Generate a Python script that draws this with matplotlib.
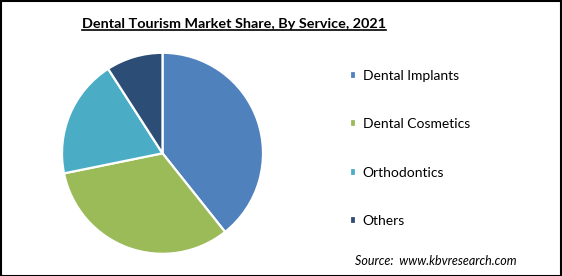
import matplotlib
matplotlib.use("Agg")
import matplotlib.pyplot as plt
from matplotlib.lines import Line2D
from matplotlib.patches import Rectangle

# chart data
services = ["Dental Implants", "Dental Cosmetics", "Orthodontics", "Others"]
shares = [39.3, 32.5, 19.1, 9.1]
colors = ["#4f81bd", "#9bbb59", "#4bacc6", "#2c4d75"]

W, H = 562, 276
fig = plt.figure(figsize=(W / 100, H / 100), dpi=100)
fig.patch.set_facecolor("white")

# pie axes: square box, centre ~ (162.5, 153) px, radius ~100 px
cx, cy, r = 162.5, 153.3, 100.5
ax = fig.add_axes([(cx - r) / W, (H - cy - r) / H, 2 * r / W, 2 * r / H])
wedges, _ = ax.pie(shares, colors=colors, startangle=90, counterclock=False,
                   wedgeprops=dict(edgecolor="white", linewidth=1.6))
ax.set_xlim(-1.0, 1.0)
ax.set_ylim(-1.0, 1.0)

# title, bold + underlined
title = fig.text(234 / W, 1 - 23.5 / H, "Dental Tourism Market Share, By Service, 2021",
                 ha="center", va="center", fontsize=10.4, fontweight="bold",
                 family="Lato")
fig.canvas.draw()
bb = title.get_window_extent(fig.canvas.get_renderer())
uy = (bb.y0 - 0.5) / H
fig.lines.append(Line2D([bb.x0 / W, bb.x1 / W], [uy, uy], transform=fig.transFigure,
                        color="black", linewidth=1.2))

# legend
leg = fig.legend(wedges, services, loc="upper left", bbox_to_anchor=(337 / W, 1 - 57 / H),
                 frameon=False, labelspacing=2.63, handlelength=0.5,
                 handleheight=0.5, handletextpad=0.45, prop=dict(family="Lato", size=10))

# source note
fig.text(355 / W, 1 - 261 / H, "Source:  www.kbvresearch.com", ha="left", va="center",
         fontsize=9, style="italic", family="Lato")

# outer border
fig.patches.append(Rectangle((0.5 / W, 0.5 / H), 1 - 1.5 / W, 1 - 1.5 / H,
                             transform=fig.transFigure, fill=False,
                             edgecolor="black", linewidth=1.5))

fig.savefig("out.png", dpi=100)
